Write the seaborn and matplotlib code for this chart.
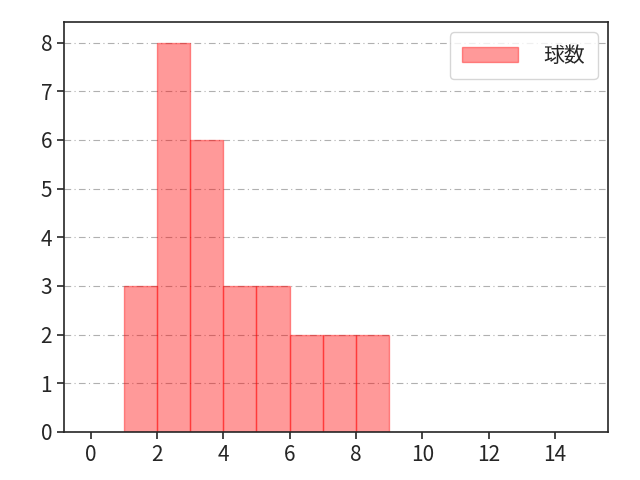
import numpy as np
import pandas as pd
import seaborn as sns
import matplotlib.pyplot as plt

# pitch counts per plate appearance
pitch_counts = [1, 1, 1,
                2, 2, 2, 2, 2, 2, 2, 2,
                3, 3, 3, 3, 3, 3,
                4, 4, 4,
                5, 5, 5,
                6, 6,
                7, 7,
                8, 8]
bin_edges = list(range(1, 10))
x_ticks = [0, 2, 4, 6, 8, 10, 12, 14]

sns.set_style("ticks")
plt.rcParams['font.family'] = ['Noto Sans CJK JP', 'DejaVu Sans']
plt.rcParams['font.size'] = 15

df = pd.DataFrame({"球数": pitch_counts})

fig, ax = plt.subplots(figsize=(6.4, 4.8), dpi=100)
sns.histplot(data=df, x="球数", bins=bin_edges, color="red", alpha=0.4,
             linewidth=1.0, label="球数", ax=ax)
for p in ax.patches:
    p.set_facecolor((1, 0, 0, 0.4))
    p.set_edgecolor((1, 0, 0, 0.4))
    p.set_alpha(None)
ax.grid(axis="y", linestyle=(0, (6, 3, 1, 3)), color="#b0b0b0", linewidth=0.8)
ax.set_axisbelow(True)
ax.set_xlim(-0.8, 15.6)
ax.set_ylim(0, 8.42)
ax.set_xticks(x_ticks)
ax.set_yticks(range(0, 9))
ax.set_xlabel("")
ax.set_ylabel("")
for s in ax.spines.values():
    s.set_linewidth(1.2)
ax.tick_params(labelsize=15, length=5, width=1.2)
ax.legend(loc="upper right", fontsize=15, borderpad=0.6, handlelength=2.7,
          handletextpad=1.2)
fig.subplots_adjust(left=0.1, right=0.95, top=0.954, bottom=0.1)
fig.savefig("out.png")
